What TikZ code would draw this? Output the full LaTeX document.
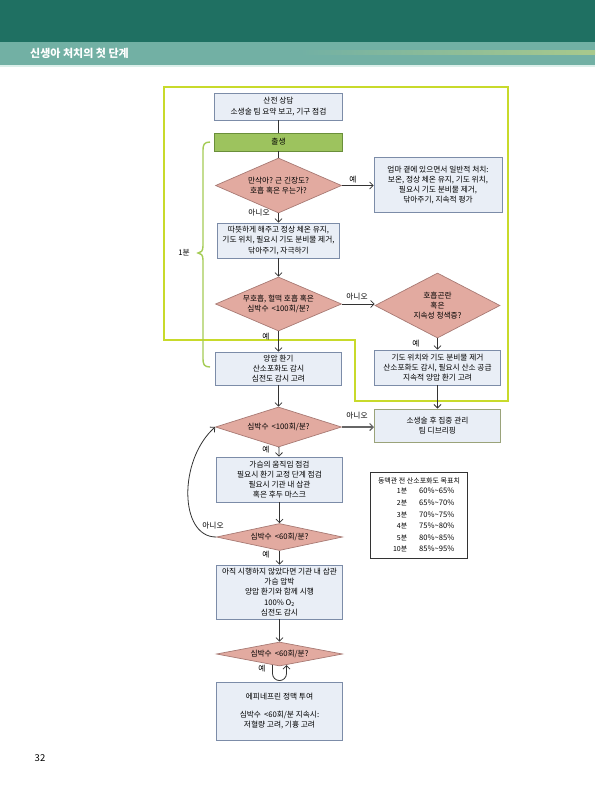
\documentclass[tikz,border=0pt]{standalone}
\usepackage{fontspec}
\setmainfont{Noto Sans CJK KR}
\usetikzlibrary{shapes.geometric,arrows.meta,calc}
\definecolor{hdark}{HTML}{1F7062}
\definecolor{hlight}{HTML}{72B0A4}
\definecolor{hstripe}{HTML}{A8C98C}
\definecolor{hline}{HTML}{DCEFEA}
\definecolor{boxfill}{HTML}{E9EEF6}
\definecolor{boxline}{HTML}{7C8CA8}
\definecolor{diafill}{HTML}{E2AAA0}
\definecolor{dialine}{HTML}{A87A74}
\definecolor{greenfill}{HTML}{9DC35E}
\definecolor{greenline}{HTML}{6A8F3A}
\definecolor{limecol}{HTML}{C8DA2B}
\definecolor{bracecol}{HTML}{A5CC55}
\definecolor{oliveline}{HTML}{9AA37A}
\definecolor{conncol}{HTML}{333333}
\newcommand\myfs{\fontsize{7.7}{10.2}\selectfont}
\newcommand\tabfs{\fontsize{7}{11.6}\selectfont}
\newcommand\pcrange[2]{{\fontsize{7.6}{11.6}\selectfont #1\%\textasciitilde#2\%}}
\begin{document}
\begin{tikzpicture}[x=1pt,y=-1pt,
  flowbox/.style={draw=boxline, fill=boxfill, line width=0.7pt, minimum width=126pt, inner sep=1pt, align=center, font=\myfs},
  dia/.style={shape=diamond, draw=dialine, fill=diafill, line width=0.7pt, inner sep=0pt, minimum width=126pt},
  dlabel/.style={font=\myfs, align=center, inner sep=0pt},
  lbl/.style={font=\myfs, inner sep=0pt},
  cline/.style={draw=conncol, line width=0.8pt},
  arr/.style={cline, -{Straight Barb[length=3.5pt,width=7pt]}},
]
\useasboundingbox (0,0) rectangle (595,793);
\fill[white] (0,0) rectangle (595,793);
% header
\fill[hdark] (0,0) rectangle (595,42);
\fill[hlight] (0,42) rectangle (595,65);
\shade[left color=hlight, right color=hstripe] (300,50.5) rectangle (595,54.5);
\fill[hline] (0,65) rectangle (595,66.5);
\node[font=\fontsize{11}{12}\selectfont\bfseries, text=white, anchor=west, inner sep=0pt] (title) at (30,53.5) {신생아 처치의 첫 단계};

% lime outline
\draw[limecol, line width=1.6pt] (164,87) -- (508,87) -- (508,401) -- (355,401) -- (355,340) -- (164,340) -- cycle;

% brace
\draw[bracecol, line width=1.4pt] (210,142) .. controls (204,142) and (203,145) .. (203,150) -- (203,246) .. controls (203,251) and (201,253) .. (198,253) .. controls (201,253) and (203,255) .. (203,260) -- (203,359) .. controls (203,364) and (204,367) .. (210,367);
\node[lbl] (m1) at (184,253) {1분};

% nodes
\node[flowbox, minimum width=128pt, minimum height=27pt] (A) at (278.5,106.5) {산전 상담\\소생술 팀 요약 보고, 기구 점검};
\node[flowbox, fill=greenfill, draw=greenline, minimum width=128pt, minimum height=18pt] (B) at (278.5,142) {출생};
\node[dia, minimum height=55pt, label={[dlabel]center:{만삭아? 근 긴장도?\\호흡 혹은 우는가?}}] (C) at (278.5,185.5) {};
\node[flowbox, minimum width=128pt, minimum height=55pt] (D) at (438,185) {엄마 곁에 있으면서 일반적 처치:\\보온, 정상 체온 유지, 기도 위치,\\필요시 기도 분비물 제거,\\닦아주기, 지속적 평가};
\node[flowbox, minimum width=122pt, minimum height=35pt] (E) at (278.5,240.5) {따뜻하게 해주고 정상 체온 유지,\\기도 위치, 필요시 기도 분비물 제거,\\닦아주기, 자극하기};
\node[dia, minimum height=54pt, label={[dlabel]center:{무호흡, 헐떡 호흡 혹은\\심박수 \,<100회/분?}}] (F) at (278.5,304) {};
\node[dia, minimum width=125pt, minimum height=65pt, label={[dlabel]center:{호흡곤란\\혹은\\지속성 청색증?}}] (G) at (437.5,305.5) {};
\node[flowbox, minimum height=35pt] (H) at (437.5,367.5) {기도 위치와 기도 분비물 제거\\산소포화도 감시, 필요시 산소 공급\\지속적 양압 환기 고려};
\node[flowbox, minimum height=33pt] (I) at (278.5,368.5) {양압 환기\\산소포화도 감시\\심전도 감시 고려};
\node[dia, minimum height=40pt, label={[dlabel]center:{심박수 \,<100회/분?}}] (J) at (278.5,427) {};
\node[flowbox, draw=oliveline, line width=1pt, minimum height=33pt] (K) at (437.5,425.5) {소생술 후 집중 관리\\팀 디브리핑};
\node[flowbox, minimum height=45pt] (L) at (279.5,479.5) {가슴의 움직임 점검\\필요시 환기 교정 단계 점검\\필요시 기관 내 삽관\\혹은 후두 마스크};
\node[dia, minimum height=27pt, label={[dlabel]center:{심박수 \,<60회/분?}}] (M) at (279.5,537) {};
\node[flowbox, minimum height=54pt] (N) at (279.5,592) {아직 시행하지 않았다면 기관 내 삽관\\가슴 압박\\양압 환기와 함께 시행\\100\% O\textsubscript{2}\\심전도 감시};
\node[dia, minimum height=24pt, label={[dlabel]center:{심박수 \,<60회/분?}}] (O) at (279.5,654) {};
\node[flowbox, minimum height=58pt] (P) at (279.5,711) {에피네프린 정맥 투여\\[8pt]심박수 \,<60회/분 지속시:\\저혈량 고려, 기흉 고려};
\node[draw=black!80, line width=1pt, fill=white, minimum width=97pt, minimum height=86pt, inner sep=0pt, font=\tabfs] (Q) at (419,515.5) {\begin{tabular}{@{\hspace{15pt}}r@{\hspace{12pt}}l@{}}\multicolumn{2}{@{}c@{}}{동맥관 전 산소포화도 목표치}\\[-1.5pt]
1분 & \pcrange{60}{65}\\
2분 & \pcrange{65}{70}\\
3분 & \pcrange{70}{75}\\
4분 & \pcrange{75}{80}\\
5분 & \pcrange{80}{85}\\
10분 & \pcrange{85}{95}\end{tabular}};

% connectors
\draw[cline] (A) -- (B);
\draw[cline] (B) -- (C);
\draw[arr] (C.east) -- (C.east -| D.west);
\draw[arr] (C) -- (E);
\draw[arr] (E) -- (F);
\draw[arr] (F.east) -- (F.east -| G.west);
\draw[arr] (G) -- (H);
\draw[arr] (F) -- (I);
\draw[arr] (I) -- (J);
\draw[arr] (H) -- (K);
\draw[arr, draw=black!60, line width=1.2pt] (J.east) -- (J.east -| K.west);
\draw[arr] (J) -- (L);
\draw[arr] (L) -- (M);
\draw[arr] (M.west) .. controls +(-37,0) and +(-37,33) .. (J.west);
\draw[arr] (M) -- (N);
\draw[arr] (N) -- (O);
\draw[arr] ($(O.south)+(-7,-1.3)$) -- ++(0,8.5) arc[start angle=180, end angle=0, radius=7] -- ($(O.south)+(7,-1.3)$);

% labels
\node[lbl] (y1) at (353,180) {예};
\node[lbl] (n1) at (259,212.5) {아니오};
\node[lbl] (n2) at (357,297) {아니오};
\node[lbl] (y2) at (266,337) {예};
\node[lbl] (y3) at (416,343.5) {예};
\node[lbl] (n3) at (357,416) {아니오};
\node[lbl] (y4) at (266,450) {예};
\node[lbl] (n4) at (213,526) {아니오};
\node[lbl] (y5) at (266,555) {예};
\node[lbl] (y6) at (262,669) {예};
\node[font=\fontsize{9.5}{10}\selectfont, inner sep=0pt] (pg) at (40,758) {32};
\end{tikzpicture}
\end{document}
